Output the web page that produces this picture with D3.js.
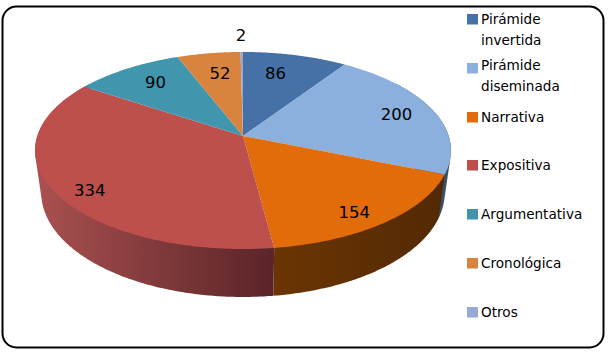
<!DOCTYPE html>
<html>
<head>
<meta charset="utf-8">
<script src="https://cdn.jsdelivr.net/npm/d3@7"></script>
<style>
  html, body { margin: 0; padding: 0; background: #fff; }
  svg { display: block; }
  text { font-family: "DejaVu Sans", sans-serif; fill: #000; }
</style>
</head>
<body>
<svg id="chart"></svg>
<script>
const width = 610;
const height = 353;

const categories = ["Pirámide invertida", "Pirámide diseminada", "Narrativa", "Expositiva", "Argumentativa", "Cronológica", "Otros"];
const values = [86, 200, 154, 334, 90, 52, 2];
const colors = ["#4671a6", "#8bb0de", "#e26b0a", "#bd4f4d", "#4196ae", "#d8843f", "#95a9d3"];
// side wall colours, left end then right end of the gradient
const wallLeft = ["#30486a", "#3f5a78", "#6b3503", "#aa5150", "#2c6a7c", "#8a5020", "#55688a"];
const wallRight = ["#30486a", "#3a4f68", "#532904", "#5a2428", "#2c6a7c", "#8a5020", "#55688a"];

// apex of the pie and the perspective of the tilted disc
const cx = 243, cy = 136;
const rx = 205.7, ry = 96.4, tilt = 0.147;
// the lower rim sits a bit narrower and rounder than the top one
const depth = 41.4, bottomX = 0.97, bottomY = 1.058;

// label nudges in px from the middle of each slice
const labelDx = [-5.5, 20, 15.5, -24, -4, 2, -1];
const labelDy = [-4, -3, 18, 16, -5, -3, -40];

const svg = d3.select("#chart").attr("width", width).attr("height", height);

// maps an angle (clockwise from 12 o'clock) on the disc to the page
function project(a, f = 1, dy = 0, sx = 1, sy = 1) {
    const X = Math.sin(a) * f, Y = -Math.cos(a) * f;
    const d = 1 - tilt * Y;
    return [cx + sx * rx * X / d, cy + dy + sy * ry * Y / d];
}

function arcPoints(a0, a1, f, dy, sx, sy) {
    const n = Math.max(2, Math.ceil((a1 - a0) / 0.01));
    return d3.range(n + 1).map(i => project(a0 + (a1 - a0) * i / n, f, dy, sx, sy));
}

const line = d3.line();
const slices = d3.pie().sort(null).value(d => d)(values);

const defs = svg.append("defs");

// frame
svg.append("rect")
    .attr("x", 2.5).attr("y", 6.5)
    .attr("width", 601).attr("height", 341)
    .attr("rx", 14).attr("ry", 14)
    .attr("fill", "#fff")
    .attr("stroke", "#000")
    .attr("stroke-width", 2);

// side walls, the hull keeps the outline smooth where the two rims meet
const front0 = Math.PI * 0.3, front1 = Math.PI * 1.7;
slices.forEach((d, i) => {
    const a0 = Math.max(d.startAngle, front0);
    const a1 = Math.min(d.endAngle, front1);
    if (a1 <= a0) return;
    const top = arcPoints(a0, a1, 1, 0, 1, 1);
    const bottom = arcPoints(a0, a1, 1, depth, bottomX, bottomY);
    const hull = d3.polygonHull(top.concat(bottom));
    const xs = hull.map(p => p[0]);
    const grad = defs.append("linearGradient")
        .attr("id", "wall" + i)
        .attr("gradientUnits", "userSpaceOnUse")
        .attr("x1", d3.min(xs)).attr("x2", d3.max(xs))
        .attr("y1", 0).attr("y2", 0);
    grad.append("stop").attr("offset", 0).attr("stop-color", wallLeft[i]);
    grad.append("stop").attr("offset", 1).attr("stop-color", wallRight[i]);
    svg.append("path")
        .attr("d", line(hull) + "Z")
        .attr("fill", `url(#wall${i})`);
});

// top faces
svg.selectAll("path.slice")
    .data(slices)
    .enter()
    .append("path")
    .attr("class", "slice")
    .attr("fill", (d, i) => colors[i])
    .attr("d", d => line([[cx, cy]].concat(arcPoints(d.startAngle, d.endAngle, 1, 0, 1, 1))) + "Z");

// value labels
svg.selectAll("text.value")
    .data(slices)
    .enter()
    .append("text")
    .attr("class", "value")
    .attr("text-anchor", "middle")
    .attr("font-size", 16.5)
    .attr("x", (d, i) => project((d.startAngle + d.endAngle) / 2, 0.7)[0] + labelDx[i])
    .attr("y", (d, i) => project((d.startAngle + d.endAngle) / 2, 0.7)[1] + labelDy[i] + 6)
    .text(d => d.data);

// legend, first two entries wrap onto two lines
const legendRows = [19, 68, 117, 165, 214, 263, 312];
const wrapped = [["Pirámide", "invertida"], ["Pirámide", "diseminada"]];

const legend = svg.selectAll("g.legend")
    .data(categories)
    .enter()
    .append("g")
    .attr("class", "legend")
    .attr("transform", (d, i) => `translate(467,${legendRows[i]})`);

legend.append("rect")
    .attr("x", 0).attr("y", -5)
    .attr("width", 11).attr("height", 10.5)
    .attr("fill", (d, i) => colors[i]);

legend.each(function (d, i) {
    const lines = wrapped[i] || [d];
    const g = d3.select(this);
    lines.forEach((t, k) => {
        g.append("text")
            .attr("x", 14)
            .attr("y", 5 + k * 21 - (i === 1 ? 3 : 0))
            .attr("font-size", 13.6)
            .text(t);
    });
});
</script>
</body>
</html>
